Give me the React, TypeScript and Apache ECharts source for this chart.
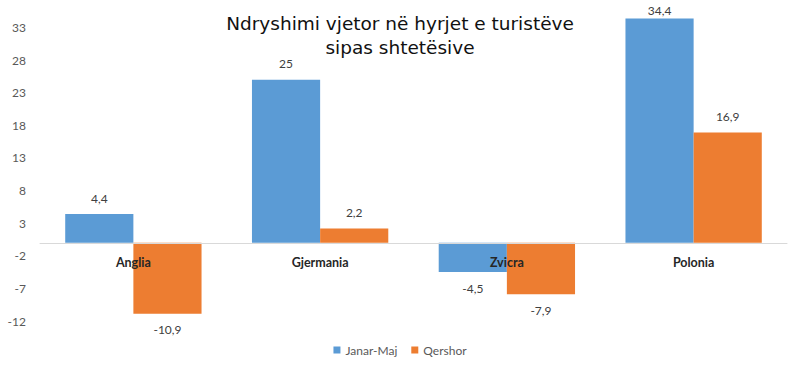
import React, { useEffect, useRef } from "react";
import * as echarts from "echarts";

const titleText = "Ndryshimi vjetor në hyrjet e turistëve\nsipas shtetësive";
const categories = ["Anglia", "Gjermania", "Zvicra", "Polonia"];
const seriesNames = ["Janar-Maj", "Qershor"];
const janarMaj = [4.4, 25, -4.5, 34.4];
const qershor = [-10.9, 2.2, -7.9, 16.9];
const yMin = -12;
const yMax = 36;
const yInterval = 5;
const colors = ["#5B9BD5", "#ED7D31"];

const W = 800;
const H = 375;
const gridTop = 8;
const gridBottom = 54;
const gridH = H - gridTop - gridBottom;

const fmt = (v: number) => String(v).replace(".", ",");

function toItems(values: number[]) {
  return values.map((v) => {
    const spaceAbove = gridTop + ((yMax - v) / (yMax - yMin)) * gridH;
    const distance = v >= 0 ? Math.max(2, Math.min(10, spaceAbove - 16)) : 10;
    return {
      value: v,
      label: { position: v >= 0 ? "top" : "bottom", distance },
    };
  });
}

export default function App() {
  const ref = useRef<HTMLDivElement>(null);
  useEffect(() => {
    if (!ref.current) return;
    const chart = echarts.init(ref.current, null, { renderer: "svg" });
    const zeroOffset = -gridH * ((0 - yMin) / (yMax - yMin));
    const labelStyle = {
      show: true,
      color: "#404040",
      fontSize: 12,
      fontFamily: "Lato",
      formatter: (p: any) => fmt(p.value),
    };
    chart.setOption({
      animation: false,
      backgroundColor: "#ffffff",
      title: {
        text: titleText,
        left: "center",
        top: 6,
        textStyle: {
          fontFamily: "DejaVu Sans",
          fontSize: 18.5,
          fontWeight: "normal",
          color: "#111111",
          lineHeight: 24,
        },
      },
      legend: {
        bottom: 14,
        left: "center",
        itemWidth: 7,
        itemHeight: 7,
        itemGap: 14,
        icon: "rect",
        textStyle: { color: "#595959", fontSize: 12, fontFamily: "Lato" },
        data: seriesNames,
      },
      grid: { left: 40, right: 13, top: gridTop, bottom: gridBottom, containLabel: false },
      xAxis: {
        type: "category",
        data: categories,
        z: 5,
        position: "bottom",
        offset: zeroOffset,
        axisLine: { show: true, onZero: false, lineStyle: { color: "#d9d9d9", width: 1 } },
        axisTick: { show: false },
        axisLabel: {
          margin: 13,
          color: "#262626",
          fontSize: 12.5,
          fontWeight: "bold",
          fontFamily: "Lato",
        },
      },
      yAxis: {
        type: "value",
        min: yMin,
        max: yMax,
        interval: yInterval,
        splitLine: { show: false },
        axisLine: { show: false },
        axisTick: { show: false },
        axisLabel: {
          showMaxLabel: false,
          margin: 14,
          color: "#595959",
          fontSize: 12,
          fontFamily: "Lato",
        },
      },
      series: [
        {
          name: seriesNames[0],
          type: "bar",
          data: toItems(janarMaj),
          itemStyle: { color: colors[0] },
          barGap: "0%",
          barCategoryGap: "27%",
          label: labelStyle,
        },
        {
          name: seriesNames[1],
          type: "bar",
          data: toItems(qershor),
          itemStyle: { color: colors[1] },
          barGap: "0%",
          barCategoryGap: "27%",
          label: labelStyle,
        },
      ],
    });
    return () => chart.dispose();
  }, []);
  return (
    <div
      ref={ref}
      style={{ position: "fixed", left: 0, top: 0, width: W, height: H }}
    />
  );
}
